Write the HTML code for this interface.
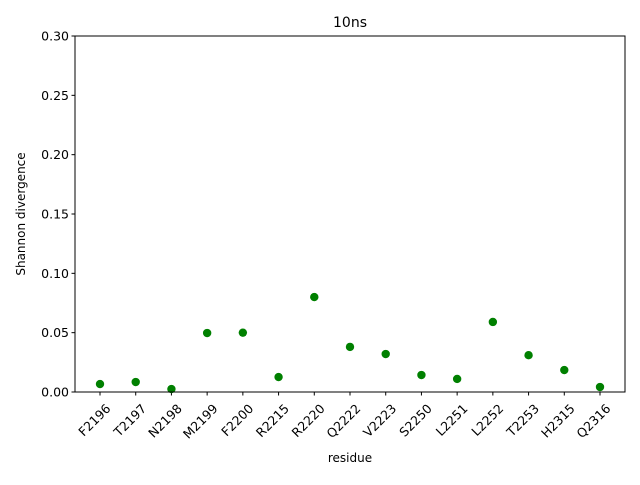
<!DOCTYPE html>
<html><head><meta charset="utf-8"><style>
body{margin:0;background:#fff;}
svg{font-family:"DejaVu Sans","Liberation Sans",sans-serif;}
</style></head><body>
<svg id="chart" width="640" height="480" xmlns="http://www.w3.org/2000/svg">
<rect x="0" y="0" width="640" height="480" fill="#fff"/>
<text x="350" y="27" font-size="14" text-anchor="middle">10ns</text>
<g id="yticks"></g>
<g id="xticks"></g>
<g id="points"></g>
<rect x="75" y="36" width="550" height="356" fill="none" stroke="#000" stroke-width="1"/>
<text x="350" y="462" font-size="12" text-anchor="middle">residue</text>
<text transform="translate(25,214) rotate(-90)" font-size="12" text-anchor="middle">Shannon divergence</text>
</svg>
<script>
const categories=["F2196","T2197","N2198","M2199","F2200","R2215","R2220","Q2222","V2223","S2250","L2251","L2252","T2253","H2315","Q2316"];
const values=[0.0067,0.0084,0.0025,0.0497,0.050,0.0126,0.080,0.038,0.032,0.0143,0.011,0.059,0.031,0.0185,0.0042];
const yTicks=[0,0.05,0.10,0.15,0.20,0.25,0.30];
const yTickLabels=["0.00","0.05","0.10","0.15","0.20","0.25","0.30"];
const NS="http://www.w3.org/2000/svg";
const L=75,R=625,T=36,B=392;
const xmin=-0.7,xmax=categories.length-1+0.7;
function xs(i){return L+(i-xmin)/(xmax-xmin)*(R-L);}
function ys(v){return B-(v-0)/(0.30-0)*(B-T);}
function mk(t,a,p){const e=document.createElementNS(NS,t);for(const k in a)e.setAttribute(k,a[k]);p.appendChild(e);return e;}
const yg=document.getElementById('yticks');
yTicks.forEach((v,i)=>{
 const y=ys(v);
 const l=mk('line',{x1:L-3.5,x2:L,y1:y,y2:y,stroke:'#000'},yg);
 
 
 const t=mk('text',{x:L-6,y:y+4.5,'font-size':12.5,'text-anchor':'end'},yg);
 t.textContent=yTickLabels[i];
 
 
});
const xg=document.getElementById('xticks');
categories.forEach((c,i)=>{
 const x=xs(i);
 const l=mk('line',{x1:x,x2:x,y1:B,y2:B+3.5,stroke:'#000'},xg);
 
 
 const t=mk('text',{transform:`translate(${x+5},${B+11}) rotate(-45)`,'font-size':12.5,'text-anchor':'end',y:9},xg);
 t.textContent=c;
 
 
});
const pg=document.getElementById('points');
values.forEach((v,i)=>{
 const c=mk('circle',{cx:xs(i),cy:ys(v),r:4.2,fill:'#008000'},pg);
 
 
});
</script>
</body></html>
